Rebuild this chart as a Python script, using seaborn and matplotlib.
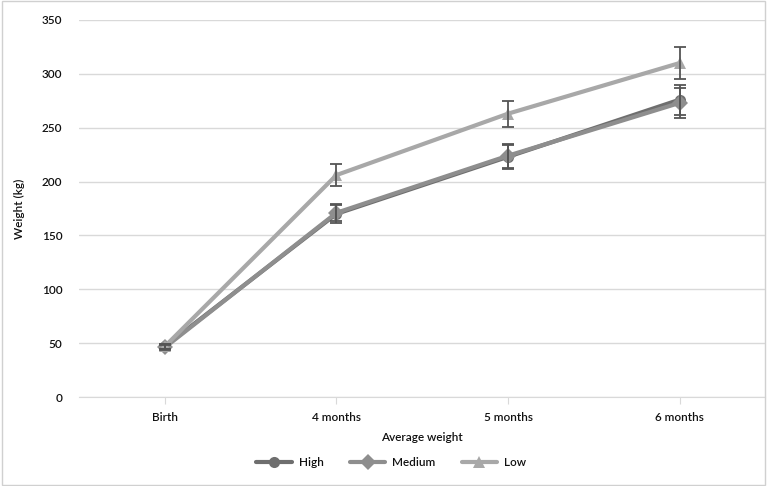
import numpy as np
import pandas as pd
import matplotlib.pyplot as plt
import seaborn as sns

# Datos
months = ['Birth', '4 months', '5 months', '6 months']
high = [47, 170, 223, 276]
medium = [46, 171, 224, 273]
low = [47, 206, 263, 310]
high_err = [2, 8, 11, 14]
medium_err = [2, 8, 11, 14]
low_err = [2, 10, 12, 15]

groups = ['High', 'Medium', 'Low']
colors = {'High': '#6e6e6e', 'Medium': '#8e8e8e', 'Low': '#a8a8a8'}
markers = {'High': 'o', 'Medium': 'D', 'Low': '^'}

df = pd.DataFrame({
    'month': months * 3,
    'weight': high + medium + low,
    'group': ['High'] * 4 + ['Medium'] * 4 + ['Low'] * 4,
})
errs = {'High': high_err, 'Medium': medium_err, 'Low': low_err}

sns.set_style("white")
plt.rcParams['font.family'] = ['Lato', 'DejaVu Sans']

fig = plt.figure(figsize=(7.67, 4.86), dpi=100)
ax = fig.add_axes([0.103, 0.183, 0.895, 0.776])

sns.lineplot(data=df, x='month', y='weight', hue='group', style='group',
             hue_order=groups, style_order=groups, palette=colors,
             markers=markers, dashes=False, linewidth=3, markersize=8,
             markeredgewidth=0, sort=False, ax=ax, legend=True)

xpos = np.arange(len(months))
for g in groups:
    vals = df.loc[df['group'] == g, 'weight'].to_numpy()
    ax.errorbar(xpos, vals, yerr=errs[g], fmt='none', ecolor='#555555',
                elinewidth=1.3, capsize=4, capthick=1.3, zorder=5)

ax.set_xlim(-0.5, 3.5)
ax.set_ylim(0, 350)
ax.set_yticks(range(0, 351, 50))
ax.yaxis.grid(True, color='#d9d9d9', linewidth=1)
ax.set_axisbelow(True)
for s in ['top', 'right', 'left']:
    ax.spines[s].set_visible(False)
ax.spines['bottom'].set_color('#d9d9d9')
ax.tick_params(axis='x', length=5, color='#d9d9d9', direction='out', pad=6,
               bottom=True, labelsize=8.5)
ax.tick_params(axis='y', length=0, pad=12, labelsize=8.5)
for lab in ax.get_xticklabels() + ax.get_yticklabels():
    lab.set_color('#111111')
    lab.set_fontweight('semibold')

ax.set_xlabel('Average weight', fontsize=8.5, color='#111111', labelpad=6,
              fontweight='semibold')
ax.set_ylabel('Weight (kg)', fontsize=8.5, color='#111111', labelpad=12,
              fontweight='semibold')

handles, labels = ax.get_legend_handles_labels()
leg = ax.legend(handles, labels, loc='upper center', bbox_to_anchor=(0.455, -0.13),
                ncol=3, frameon=False, fontsize=8.5, handlelength=3.0,
                columnspacing=2.2, handletextpad=0.6)
for t in leg.get_texts():
    t.set_fontweight('semibold')
    t.set_color('#111111')

# marco exterior
fig.patches.append(plt.Rectangle((0.002, 0.002), 0.996, 0.996,
                                 transform=fig.transFigure, fill=False,
                                 edgecolor='#d0d0d0', linewidth=1))

plt.savefig('out.png', dpi=100)
